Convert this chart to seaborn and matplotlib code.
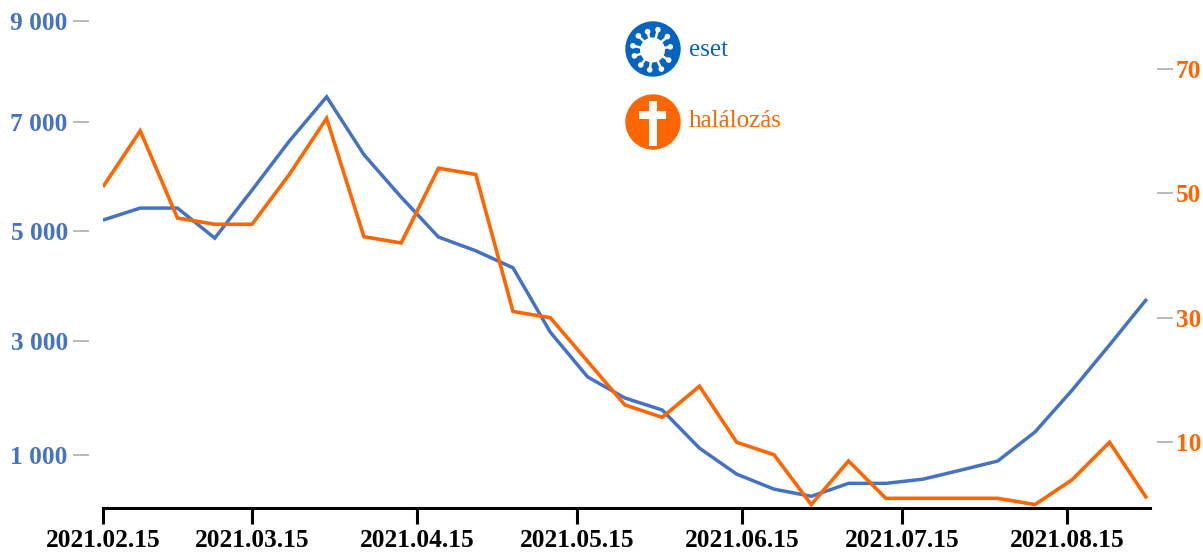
import numpy as np
import pandas as pd
import seaborn as sns
import matplotlib
matplotlib.use('Agg')
import matplotlib.pyplot as plt
from matplotlib.patches import Circle, Rectangle

# heti adatok
start_date = '2021-02-15'
eset = [5200, 5420, 5420, 4870, 5750, 6650, 7500, 6400, 5620, 4890, 4640, 4330, 3160, 2370, 2000,
        1790, 1120, 635, 350, 213, 460, 460, 540, 710, 885, 1403, 2140, 2930, 3764]
halalozas = [51, 60, 46, 45, 45, 53, 62, 43, 42, 54, 53, 31, 30, 23, 16,
             14, 19, 10, 8, 0, 7, 1, 1, 1, 1, 0, 4, 10, 1]
x_ticks = ['2021-02-15', '2021-03-15', '2021-04-15', '2021-05-15', '2021-06-15', '2021-07-15', '2021-08-15']
x_labels = ['2021.02.15', '2021.03.15', '2021.04.15', '2021.05.15', '2021.06.15', '2021.07.15', '2021.08.15']
left_ticks = [1000, 3000, 5000, 7000, 9000]
left_labels = ['1 000', '3 000', '5 000', '7 000', '9 000']
right_ticks = [10, 30, 50, 70]

# a bal tengely osztásai az eredetin nem egyenletesek
scale_vals = [0, 1000, 3000, 5000, 7000, 9000, 9500]
scale_pos = [0, 52.5, 166.5, 276.5, 385.5, 486, 511]

BLUE = '#4472C4'
ORANGE = '#FF6600'
ICON_BLUE = '#0563C1'
W, H = 1203, 553

sns.set_theme(style='white')
plt.rcParams['font.family'] = ['Liberation Serif', 'DejaVu Serif']

df = pd.DataFrame({'datum': pd.date_range(start_date, periods=len(eset), freq='7D'),
                   'eset': eset, 'halalozas': halalozas})

fig = plt.figure(figsize=(W / 100, H / 100), dpi=100)
ax = fig.add_axes([102.5 / W, (H - 507.5) / H, (1150 - 102.5) / W, (507.5 - 10) / H])
ax2 = ax.twinx()

sns.lineplot(data=df, x='datum', y='eset', ax=ax, color=BLUE, linewidth=2.5, legend=False,
             solid_capstyle='butt', solid_joinstyle='miter')
sns.lineplot(data=df, x='datum', y='halalozas', ax=ax2, color=ORANGE, linewidth=2.6, legend=False,
             solid_capstyle='butt', solid_joinstyle='miter')

ax.set_yscale('function', functions=(lambda v: np.interp(v, scale_vals, scale_pos),
                                     lambda p: np.interp(p, scale_pos, scale_vals)))
ax.set_ylim(0, 9229)
ax2.set_ylim(-0.47, 79.4)
ax.set_xlim(pd.Timestamp(start_date) - pd.Timedelta(hours=2), pd.Timestamp(start_date) + pd.Timedelta(days=196.6))

ax.set_xlabel('')
ax.set_ylabel('')
ax2.set_xlabel('')
ax2.set_ylabel('')

for a in (ax, ax2):
    for s in ('top', 'left', 'right'):
        a.spines[s].set_visible(False)
ax2.spines['bottom'].set_visible(False)
ax.spines['bottom'].set_linewidth(2.2)
ax.spines['bottom'].set_color('black')

# tengelytől elcsúsztatott osztások
ax.spines['left'].set_position(('outward', 10))
ax2.spines['right'].set_position(('outward', 5))

ax.set_xticks(pd.to_datetime(x_ticks))
ax.set_xticklabels(x_labels, fontsize=18.3, fontweight='bold', color='black')
ax.tick_params(axis='x', length=11.5, width=2.2, color='black', pad=4, bottom=True)

ax.set_yticks(left_ticks)
ax.set_yticklabels(left_labels, fontsize=18.3, fontweight='bold', color=BLUE)
ax.yaxis.set_minor_locator(matplotlib.ticker.NullLocator())
ax.tick_params(axis='y', length=11.5, width=1.1, color='#A6A6A6', pad=3.5, left=True)

ax2.set_yticks(right_ticks)
ax2.set_yticklabels([str(t) for t in right_ticks], fontsize=18.3, fontweight='bold', color=ORANGE)
ax2.tick_params(axis='y', length=11.5, width=1.1, color='#A6A6A6', pad=2, right=True)

# jelmagyarázat ikonokkal, pixel koordinátákban
leg = fig.add_axes([0, 0, 1, 1])
leg.set_xlim(0, W)
leg.set_ylim(H, 0)
leg.axis('off')
leg.patch.set_alpha(0)

leg.add_patch(Circle((653, 49), 27.7, color=ICON_BLUE, lw=0))
leg.add_patch(Circle((652.5, 50), 12.5, color='white', lw=0))
spike_angles = [10, 42, 75, 105, 135, 168, 198, 232, 262, 295, 328]
spike_lens = [18, 20, 21, 19, 20, 20, 19, 19, 20, 21, 19]
for ang, ln in zip(spike_angles, spike_lens):
    dx, dy = np.cos(np.radians(ang)), -np.sin(np.radians(ang))
    leg.plot([652.5, 652.5 + dx * ln], [50, 50 + dy * ln], color='white', lw=1.8, solid_capstyle='butt')
    leg.add_patch(Circle((652.5 + dx * ln, 50 + dy * ln), 2.8, color='white', lw=0))

leg.add_patch(Circle((653, 122), 27.7, color=ORANGE, lw=0))
leg.add_patch(Rectangle((648.5, 100.5), 8.3, 45.5, color='white', lw=0))
leg.add_patch(Rectangle((639, 111), 27, 8.3, color='white', lw=0))

leg.text(689, 55.7, 'eset', fontsize=18, color=ICON_BLUE, va='baseline', ha='left')
leg.text(689, 127, 'halálozás', fontsize=18, color=ORANGE, va='baseline', ha='left')

fig.savefig('out.png', dpi=100)
